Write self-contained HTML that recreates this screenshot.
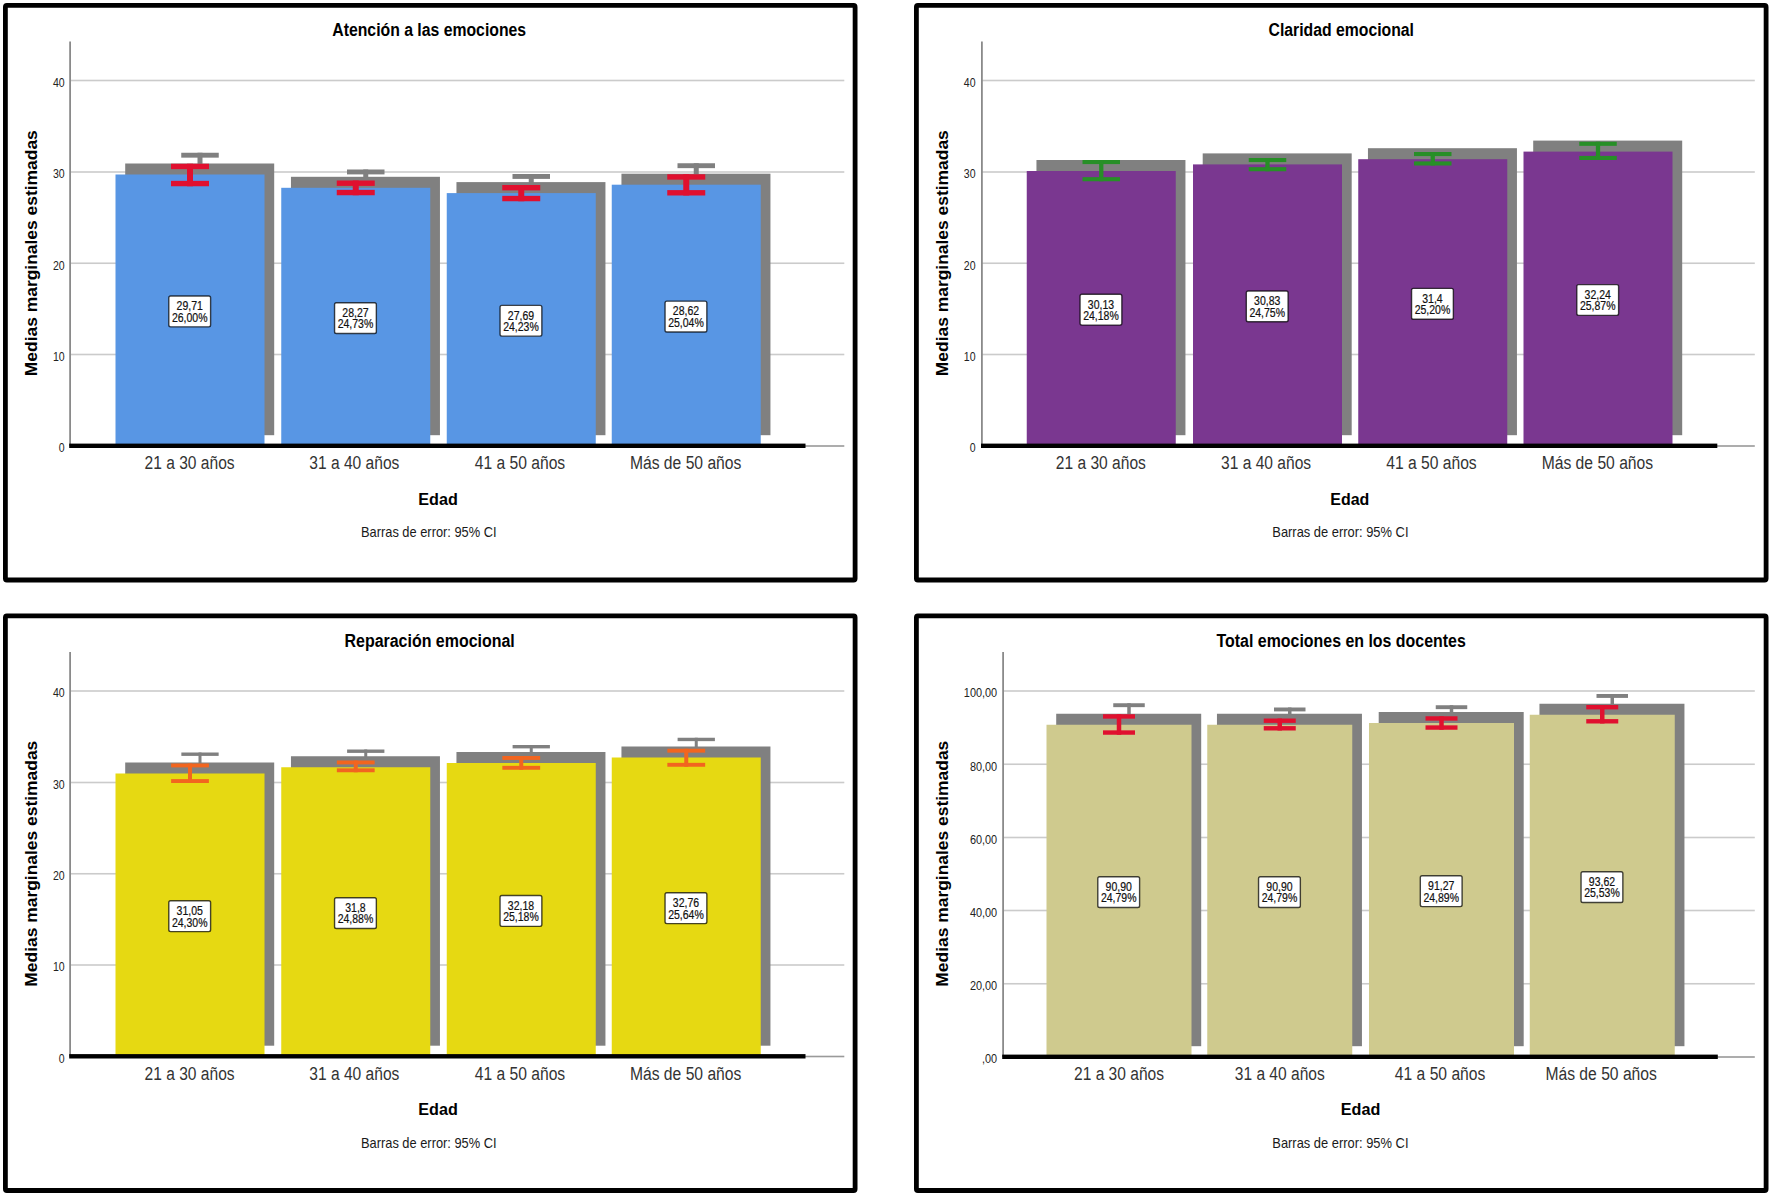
<!DOCTYPE html>
<html lang="es"><head><meta charset="utf-8"><title>Medias marginales estimadas por edad</title>
<style>html,body{margin:0;padding:0;background:#fff}svg{display:block}text{font-family:"Liberation Sans", sans-serif;}</style></head>
<body><svg width="1772" height="1197" viewBox="0 0 1772 1197">
<rect width="1772" height="1197" fill="#fff"/>
<g>
<rect x="5.40" y="5.40" width="849.70" height="574.60" fill="#fff" stroke="#000" stroke-width="4.8" rx="1.5"/>
<rect x="70.10" y="79.70" width="774.20" height="1.60" fill="#cbcbcb"/>
<rect x="70.10" y="171.20" width="774.20" height="1.60" fill="#cbcbcb"/>
<rect x="70.10" y="262.45" width="774.20" height="1.60" fill="#cbcbcb"/>
<rect x="70.10" y="353.70" width="774.20" height="1.60" fill="#cbcbcb"/>
<rect x="70.10" y="445.20" width="774.20" height="1.60" fill="#9a9a9a"/>
<rect x="69.20" y="41.50" width="1.80" height="404.50" fill="#8a8a8a"/>
<text x="64.70" y="86.90" font-size="12" text-anchor="end" fill="#222" textLength="11.74" lengthAdjust="spacingAndGlyphs">40</text>
<text x="64.70" y="178.40" font-size="12" text-anchor="end" fill="#222" textLength="11.74" lengthAdjust="spacingAndGlyphs">30</text>
<text x="64.70" y="269.65" font-size="12" text-anchor="end" fill="#222" textLength="11.74" lengthAdjust="spacingAndGlyphs">20</text>
<text x="64.70" y="360.90" font-size="12" text-anchor="end" fill="#222" textLength="11.74" lengthAdjust="spacingAndGlyphs">10</text>
<text x="64.70" y="452.40" font-size="12" text-anchor="end" fill="#222" textLength="5.87" lengthAdjust="spacingAndGlyphs">0</text>
<rect x="125.20" y="163.50" width="149.00" height="271.70" fill="#808080"/>
<rect x="290.95" y="176.80" width="149.00" height="258.40" fill="#808080"/>
<rect x="456.45" y="182.10" width="149.00" height="253.10" fill="#808080"/>
<rect x="621.45" y="173.70" width="149.00" height="261.50" fill="#808080"/>
<rect x="181.25" y="152.75" width="37.50" height="4.90" fill="#808080"/>
<rect x="197.50" y="152.75" width="5.00" height="22.50" fill="#808080"/>
<rect x="181.25" y="170.35" width="37.50" height="4.90" fill="#808080"/>
<rect x="347.00" y="169.50" width="37.50" height="4.90" fill="#808080"/>
<rect x="363.25" y="169.50" width="5.00" height="14.75" fill="#808080"/>
<rect x="347.00" y="179.35" width="37.50" height="4.90" fill="#808080"/>
<rect x="512.50" y="174.00" width="37.50" height="4.90" fill="#808080"/>
<rect x="528.75" y="174.00" width="5.00" height="16.25" fill="#808080"/>
<rect x="512.50" y="185.35" width="37.50" height="4.90" fill="#808080"/>
<rect x="677.50" y="163.25" width="37.50" height="4.90" fill="#808080"/>
<rect x="693.75" y="163.25" width="5.00" height="21.25" fill="#808080"/>
<rect x="677.50" y="179.60" width="37.50" height="4.90" fill="#808080"/>
<rect x="115.50" y="174.50" width="149.00" height="271.50" fill="#5896e4"/>
<rect x="281.25" y="187.80" width="149.00" height="258.20" fill="#5896e4"/>
<rect x="446.75" y="193.10" width="149.00" height="252.90" fill="#5896e4"/>
<rect x="611.75" y="184.70" width="149.00" height="261.30" fill="#5896e4"/>
<rect x="69.20" y="443.60" width="736.30" height="4.40" fill="#000"/>
<rect x="171.00" y="163.75" width="38.00" height="5.40" fill="#e0102f"/>
<rect x="187.00" y="163.75" width="6.00" height="22.50" fill="#e0102f"/>
<rect x="171.00" y="180.85" width="38.00" height="5.40" fill="#e0102f"/>
<rect x="168.80" y="296.05" width="41.80" height="30.80" rx="1.8" fill="#fff" stroke="#000" stroke-opacity="0.72" stroke-width="1.4"/>
<text x="189.70" y="310.25" font-size="12" text-anchor="middle" fill="#111" textLength="26.26" lengthAdjust="spacingAndGlyphs" stroke="#111" stroke-width="0.2">29,71</text>
<text x="189.70" y="321.75" font-size="12" text-anchor="middle" fill="#111" textLength="35.60" lengthAdjust="spacingAndGlyphs" stroke="#111" stroke-width="0.2">26,00%</text>
<text x="189.60" y="469.10" font-size="18" text-anchor="middle" fill="#333" textLength="90.00" lengthAdjust="spacingAndGlyphs">21 a 30 años</text>
<rect x="336.75" y="180.50" width="38.00" height="5.40" fill="#e0102f"/>
<rect x="352.75" y="180.50" width="6.00" height="14.75" fill="#e0102f"/>
<rect x="336.75" y="189.85" width="38.00" height="5.40" fill="#e0102f"/>
<rect x="334.55" y="302.70" width="41.80" height="30.80" rx="1.8" fill="#fff" stroke="#000" stroke-opacity="0.72" stroke-width="1.4"/>
<text x="355.45" y="316.90" font-size="12" text-anchor="middle" fill="#111" textLength="26.26" lengthAdjust="spacingAndGlyphs" stroke="#111" stroke-width="0.2">28,27</text>
<text x="355.45" y="328.40" font-size="12" text-anchor="middle" fill="#111" textLength="35.60" lengthAdjust="spacingAndGlyphs" stroke="#111" stroke-width="0.2">24,73%</text>
<text x="354.35" y="469.10" font-size="18" text-anchor="middle" fill="#333" textLength="90.00" lengthAdjust="spacingAndGlyphs">31 a 40 años</text>
<rect x="502.25" y="185.00" width="38.00" height="5.40" fill="#e0102f"/>
<rect x="518.25" y="185.00" width="6.00" height="16.25" fill="#e0102f"/>
<rect x="502.25" y="195.85" width="38.00" height="5.40" fill="#e0102f"/>
<rect x="500.05" y="305.35" width="41.80" height="30.80" rx="1.8" fill="#fff" stroke="#000" stroke-opacity="0.72" stroke-width="1.4"/>
<text x="520.95" y="319.55" font-size="12" text-anchor="middle" fill="#111" textLength="26.26" lengthAdjust="spacingAndGlyphs" stroke="#111" stroke-width="0.2">27,69</text>
<text x="520.95" y="331.05" font-size="12" text-anchor="middle" fill="#111" textLength="35.60" lengthAdjust="spacingAndGlyphs" stroke="#111" stroke-width="0.2">24,23%</text>
<text x="519.95" y="469.10" font-size="18" text-anchor="middle" fill="#333" textLength="90.50" lengthAdjust="spacingAndGlyphs">41 a 50 años</text>
<rect x="667.25" y="174.25" width="38.00" height="5.40" fill="#e0102f"/>
<rect x="683.25" y="174.25" width="6.00" height="21.25" fill="#e0102f"/>
<rect x="667.25" y="190.10" width="38.00" height="5.40" fill="#e0102f"/>
<rect x="665.05" y="301.15" width="41.80" height="30.80" rx="1.8" fill="#fff" stroke="#000" stroke-opacity="0.72" stroke-width="1.4"/>
<text x="685.95" y="315.35" font-size="12" text-anchor="middle" fill="#111" textLength="26.26" lengthAdjust="spacingAndGlyphs" stroke="#111" stroke-width="0.2">28,62</text>
<text x="685.95" y="326.85" font-size="12" text-anchor="middle" fill="#111" textLength="35.60" lengthAdjust="spacingAndGlyphs" stroke="#111" stroke-width="0.2">25,04%</text>
<text x="685.65" y="469.10" font-size="18" text-anchor="middle" fill="#333" textLength="111.50" lengthAdjust="spacingAndGlyphs">Más de 50 años</text>
<text x="429.20" y="36.20" font-size="18" text-anchor="middle" font-weight="bold" fill="#000" textLength="193.80" lengthAdjust="spacingAndGlyphs">Atención a las emociones</text>
<text x="438.05" y="504.60" font-size="17" text-anchor="middle" font-weight="bold" fill="#000" textLength="39.50" lengthAdjust="spacingAndGlyphs">Edad</text>
<text x="428.80" y="537.20" font-size="14.6" text-anchor="middle" fill="#1a1a1a" textLength="135.60" lengthAdjust="spacingAndGlyphs">Barras de error: 95% CI</text>
<text transform="translate(36.60,253.20) rotate(-90)" x="0" y="0" font-size="16.8" font-weight="bold" text-anchor="middle" textLength="246" lengthAdjust="spacingAndGlyphs">Medias marginales estimadas</text>
</g>
<g>
<rect x="916.40" y="5.40" width="849.70" height="574.60" fill="#fff" stroke="#000" stroke-width="4.8" rx="1.5"/>
<rect x="981.90" y="79.70" width="772.90" height="1.60" fill="#cbcbcb"/>
<rect x="981.90" y="171.20" width="772.90" height="1.60" fill="#cbcbcb"/>
<rect x="981.90" y="262.45" width="772.90" height="1.60" fill="#cbcbcb"/>
<rect x="981.90" y="353.70" width="772.90" height="1.60" fill="#cbcbcb"/>
<rect x="981.90" y="445.20" width="772.90" height="1.60" fill="#9a9a9a"/>
<rect x="981.00" y="41.50" width="1.80" height="404.50" fill="#8a8a8a"/>
<text x="975.60" y="86.90" font-size="12" text-anchor="end" fill="#222" textLength="11.74" lengthAdjust="spacingAndGlyphs">40</text>
<text x="975.60" y="178.40" font-size="12" text-anchor="end" fill="#222" textLength="11.74" lengthAdjust="spacingAndGlyphs">30</text>
<text x="975.60" y="269.65" font-size="12" text-anchor="end" fill="#222" textLength="11.74" lengthAdjust="spacingAndGlyphs">20</text>
<text x="975.60" y="360.90" font-size="12" text-anchor="end" fill="#222" textLength="11.74" lengthAdjust="spacingAndGlyphs">10</text>
<text x="975.60" y="452.40" font-size="12" text-anchor="end" fill="#222" textLength="5.87" lengthAdjust="spacingAndGlyphs">0</text>
<rect x="1036.45" y="160.00" width="149.00" height="275.20" fill="#808080"/>
<rect x="1202.70" y="153.40" width="149.00" height="281.80" fill="#808080"/>
<rect x="1367.95" y="148.20" width="149.00" height="287.00" fill="#808080"/>
<rect x="1533.20" y="140.60" width="149.00" height="294.60" fill="#808080"/>
<rect x="1026.75" y="171.00" width="149.00" height="275.00" fill="#7a3790"/>
<rect x="1193.00" y="164.40" width="149.00" height="281.60" fill="#7a3790"/>
<rect x="1358.25" y="159.20" width="149.00" height="286.80" fill="#7a3790"/>
<rect x="1523.50" y="151.60" width="149.00" height="294.40" fill="#7a3790"/>
<rect x="981.00" y="443.60" width="736.30" height="4.40" fill="#000"/>
<rect x="1082.50" y="160.00" width="37.50" height="4.10" fill="#278f27"/>
<rect x="1099.10" y="160.00" width="4.30" height="21.25" fill="#278f27"/>
<rect x="1082.50" y="177.15" width="37.50" height="4.10" fill="#278f27"/>
<rect x="1080.05" y="294.30" width="41.80" height="30.80" rx="1.8" fill="#fff" stroke="#000" stroke-opacity="0.72" stroke-width="1.4"/>
<text x="1100.95" y="308.50" font-size="12" text-anchor="middle" fill="#111" textLength="26.26" lengthAdjust="spacingAndGlyphs" stroke="#111" stroke-width="0.2">30,13</text>
<text x="1100.95" y="320.00" font-size="12" text-anchor="middle" fill="#111" textLength="35.60" lengthAdjust="spacingAndGlyphs" stroke="#111" stroke-width="0.2">24,18%</text>
<text x="1100.85" y="469.10" font-size="18" text-anchor="middle" fill="#333" textLength="90.00" lengthAdjust="spacingAndGlyphs">21 a 30 años</text>
<rect x="1248.75" y="158.00" width="37.50" height="4.10" fill="#278f27"/>
<rect x="1265.35" y="158.00" width="4.30" height="13.25" fill="#278f27"/>
<rect x="1248.75" y="167.15" width="37.50" height="4.10" fill="#278f27"/>
<rect x="1246.30" y="291.00" width="41.80" height="30.80" rx="1.8" fill="#fff" stroke="#000" stroke-opacity="0.72" stroke-width="1.4"/>
<text x="1267.20" y="305.20" font-size="12" text-anchor="middle" fill="#111" textLength="26.26" lengthAdjust="spacingAndGlyphs" stroke="#111" stroke-width="0.2">30,83</text>
<text x="1267.20" y="316.70" font-size="12" text-anchor="middle" fill="#111" textLength="35.60" lengthAdjust="spacingAndGlyphs" stroke="#111" stroke-width="0.2">24,75%</text>
<text x="1266.10" y="469.10" font-size="18" text-anchor="middle" fill="#333" textLength="90.00" lengthAdjust="spacingAndGlyphs">31 a 40 años</text>
<rect x="1414.00" y="152.00" width="37.50" height="4.10" fill="#278f27"/>
<rect x="1430.60" y="152.00" width="4.30" height="13.50" fill="#278f27"/>
<rect x="1414.00" y="161.40" width="37.50" height="4.10" fill="#278f27"/>
<rect x="1411.55" y="288.40" width="41.80" height="30.80" rx="1.8" fill="#fff" stroke="#000" stroke-opacity="0.72" stroke-width="1.4"/>
<text x="1432.45" y="302.60" font-size="12" text-anchor="middle" fill="#111" textLength="20.42" lengthAdjust="spacingAndGlyphs" stroke="#111" stroke-width="0.2">31,4</text>
<text x="1432.45" y="314.10" font-size="12" text-anchor="middle" fill="#111" textLength="35.60" lengthAdjust="spacingAndGlyphs" stroke="#111" stroke-width="0.2">25,20%</text>
<text x="1431.45" y="469.10" font-size="18" text-anchor="middle" fill="#333" textLength="90.50" lengthAdjust="spacingAndGlyphs">41 a 50 años</text>
<rect x="1579.25" y="141.75" width="37.50" height="4.10" fill="#278f27"/>
<rect x="1595.85" y="141.75" width="4.30" height="18.25" fill="#278f27"/>
<rect x="1579.25" y="155.90" width="37.50" height="4.10" fill="#278f27"/>
<rect x="1576.80" y="284.60" width="41.80" height="30.80" rx="1.8" fill="#fff" stroke="#000" stroke-opacity="0.72" stroke-width="1.4"/>
<text x="1597.70" y="298.80" font-size="12" text-anchor="middle" fill="#111" textLength="26.26" lengthAdjust="spacingAndGlyphs" stroke="#111" stroke-width="0.2">32,24</text>
<text x="1597.70" y="310.30" font-size="12" text-anchor="middle" fill="#111" textLength="35.60" lengthAdjust="spacingAndGlyphs" stroke="#111" stroke-width="0.2">25,87%</text>
<text x="1597.40" y="469.10" font-size="18" text-anchor="middle" fill="#333" textLength="111.50" lengthAdjust="spacingAndGlyphs">Más de 50 años</text>
<text x="1341.25" y="36.20" font-size="18" text-anchor="middle" font-weight="bold" fill="#000" textLength="145.50" lengthAdjust="spacingAndGlyphs">Claridad emocional</text>
<text x="1349.80" y="504.60" font-size="17" text-anchor="middle" font-weight="bold" fill="#000" textLength="39.00" lengthAdjust="spacingAndGlyphs">Edad</text>
<text x="1340.40" y="537.20" font-size="14.6" text-anchor="middle" fill="#1a1a1a" textLength="136.20" lengthAdjust="spacingAndGlyphs">Barras de error: 95% CI</text>
<text transform="translate(947.80,253.20) rotate(-90)" x="0" y="0" font-size="16.8" font-weight="bold" text-anchor="middle" textLength="246" lengthAdjust="spacingAndGlyphs">Medias marginales estimadas</text>
</g>
<g>
<rect x="5.40" y="615.90" width="849.70" height="574.60" fill="#fff" stroke="#000" stroke-width="4.8" rx="1.5"/>
<rect x="70.10" y="690.20" width="774.20" height="1.60" fill="#cbcbcb"/>
<rect x="70.10" y="781.70" width="774.20" height="1.60" fill="#cbcbcb"/>
<rect x="70.10" y="872.95" width="774.20" height="1.60" fill="#cbcbcb"/>
<rect x="70.10" y="964.20" width="774.20" height="1.60" fill="#cbcbcb"/>
<rect x="70.10" y="1055.70" width="774.20" height="1.60" fill="#9a9a9a"/>
<rect x="69.20" y="652.00" width="1.80" height="404.50" fill="#8a8a8a"/>
<text x="64.70" y="697.40" font-size="12" text-anchor="end" fill="#222" textLength="11.74" lengthAdjust="spacingAndGlyphs">40</text>
<text x="64.70" y="788.90" font-size="12" text-anchor="end" fill="#222" textLength="11.74" lengthAdjust="spacingAndGlyphs">30</text>
<text x="64.70" y="880.15" font-size="12" text-anchor="end" fill="#222" textLength="11.74" lengthAdjust="spacingAndGlyphs">20</text>
<text x="64.70" y="971.40" font-size="12" text-anchor="end" fill="#222" textLength="11.74" lengthAdjust="spacingAndGlyphs">10</text>
<text x="64.70" y="1062.90" font-size="12" text-anchor="end" fill="#222" textLength="5.87" lengthAdjust="spacingAndGlyphs">0</text>
<rect x="125.20" y="762.50" width="149.00" height="283.20" fill="#808080"/>
<rect x="290.95" y="756.25" width="149.00" height="289.45" fill="#808080"/>
<rect x="456.45" y="752.00" width="149.00" height="293.70" fill="#808080"/>
<rect x="621.45" y="746.50" width="149.00" height="299.20" fill="#808080"/>
<rect x="181.35" y="752.50" width="37.30" height="3.40" fill="#808080"/>
<rect x="198.50" y="752.50" width="3.00" height="19.50" fill="#808080"/>
<rect x="181.35" y="768.60" width="37.30" height="3.40" fill="#808080"/>
<rect x="347.10" y="749.50" width="37.30" height="3.40" fill="#808080"/>
<rect x="364.25" y="749.50" width="3.00" height="11.75" fill="#808080"/>
<rect x="347.10" y="757.85" width="37.30" height="3.40" fill="#808080"/>
<rect x="512.60" y="745.00" width="37.30" height="3.40" fill="#808080"/>
<rect x="529.75" y="745.00" width="3.00" height="13.75" fill="#808080"/>
<rect x="512.60" y="755.35" width="37.30" height="3.40" fill="#808080"/>
<rect x="677.60" y="737.75" width="37.30" height="3.40" fill="#808080"/>
<rect x="694.75" y="737.75" width="3.00" height="18.00" fill="#808080"/>
<rect x="677.60" y="752.35" width="37.30" height="3.40" fill="#808080"/>
<rect x="115.50" y="773.50" width="149.00" height="283.00" fill="#e6d912"/>
<rect x="281.25" y="767.25" width="149.00" height="289.25" fill="#e6d912"/>
<rect x="446.75" y="763.00" width="149.00" height="293.50" fill="#e6d912"/>
<rect x="611.75" y="757.50" width="149.00" height="299.00" fill="#e6d912"/>
<rect x="69.20" y="1054.10" width="736.30" height="4.40" fill="#000"/>
<rect x="171.10" y="763.50" width="37.80" height="3.90" fill="#f2651f"/>
<rect x="188.00" y="763.50" width="4.00" height="19.50" fill="#f2651f"/>
<rect x="171.10" y="779.10" width="37.80" height="3.90" fill="#f2651f"/>
<rect x="168.80" y="900.80" width="41.80" height="30.80" rx="1.8" fill="#fff" stroke="#000" stroke-opacity="0.72" stroke-width="1.4"/>
<text x="189.70" y="915.00" font-size="12" text-anchor="middle" fill="#111" textLength="26.26" lengthAdjust="spacingAndGlyphs" stroke="#111" stroke-width="0.2">31,05</text>
<text x="189.70" y="926.50" font-size="12" text-anchor="middle" fill="#111" textLength="35.60" lengthAdjust="spacingAndGlyphs" stroke="#111" stroke-width="0.2">24,30%</text>
<text x="189.60" y="1079.60" font-size="18" text-anchor="middle" fill="#333" textLength="90.00" lengthAdjust="spacingAndGlyphs">21 a 30 años</text>
<rect x="336.85" y="760.50" width="37.80" height="3.90" fill="#f2651f"/>
<rect x="353.75" y="760.50" width="4.00" height="11.75" fill="#f2651f"/>
<rect x="336.85" y="768.35" width="37.80" height="3.90" fill="#f2651f"/>
<rect x="334.55" y="897.68" width="41.80" height="30.80" rx="1.8" fill="#fff" stroke="#000" stroke-opacity="0.72" stroke-width="1.4"/>
<text x="355.45" y="911.88" font-size="12" text-anchor="middle" fill="#111" textLength="20.42" lengthAdjust="spacingAndGlyphs" stroke="#111" stroke-width="0.2">31,8</text>
<text x="355.45" y="923.38" font-size="12" text-anchor="middle" fill="#111" textLength="35.60" lengthAdjust="spacingAndGlyphs" stroke="#111" stroke-width="0.2">24,88%</text>
<text x="354.35" y="1079.60" font-size="18" text-anchor="middle" fill="#333" textLength="90.00" lengthAdjust="spacingAndGlyphs">31 a 40 años</text>
<rect x="502.35" y="756.00" width="37.80" height="3.90" fill="#f2651f"/>
<rect x="519.25" y="756.00" width="4.00" height="13.75" fill="#f2651f"/>
<rect x="502.35" y="765.85" width="37.80" height="3.90" fill="#f2651f"/>
<rect x="500.05" y="895.55" width="41.80" height="30.80" rx="1.8" fill="#fff" stroke="#000" stroke-opacity="0.72" stroke-width="1.4"/>
<text x="520.95" y="909.75" font-size="12" text-anchor="middle" fill="#111" textLength="26.26" lengthAdjust="spacingAndGlyphs" stroke="#111" stroke-width="0.2">32,18</text>
<text x="520.95" y="921.25" font-size="12" text-anchor="middle" fill="#111" textLength="35.60" lengthAdjust="spacingAndGlyphs" stroke="#111" stroke-width="0.2">25,18%</text>
<text x="519.95" y="1079.60" font-size="18" text-anchor="middle" fill="#333" textLength="90.50" lengthAdjust="spacingAndGlyphs">41 a 50 años</text>
<rect x="667.35" y="748.75" width="37.80" height="3.90" fill="#f2651f"/>
<rect x="684.25" y="748.75" width="4.00" height="18.00" fill="#f2651f"/>
<rect x="667.35" y="762.85" width="37.80" height="3.90" fill="#f2651f"/>
<rect x="665.05" y="892.80" width="41.80" height="30.80" rx="1.8" fill="#fff" stroke="#000" stroke-opacity="0.72" stroke-width="1.4"/>
<text x="685.95" y="907.00" font-size="12" text-anchor="middle" fill="#111" textLength="26.26" lengthAdjust="spacingAndGlyphs" stroke="#111" stroke-width="0.2">32,76</text>
<text x="685.95" y="918.50" font-size="12" text-anchor="middle" fill="#111" textLength="35.60" lengthAdjust="spacingAndGlyphs" stroke="#111" stroke-width="0.2">25,64%</text>
<text x="685.65" y="1079.60" font-size="18" text-anchor="middle" fill="#333" textLength="111.50" lengthAdjust="spacingAndGlyphs">Más de 50 años</text>
<text x="429.65" y="646.70" font-size="18" text-anchor="middle" font-weight="bold" fill="#000" textLength="170.30" lengthAdjust="spacingAndGlyphs">Reparación emocional</text>
<text x="438.05" y="1115.10" font-size="17" text-anchor="middle" font-weight="bold" fill="#000" textLength="39.50" lengthAdjust="spacingAndGlyphs">Edad</text>
<text x="428.80" y="1147.70" font-size="14.6" text-anchor="middle" fill="#1a1a1a" textLength="135.60" lengthAdjust="spacingAndGlyphs">Barras de error: 95% CI</text>
<text transform="translate(36.60,863.70) rotate(-90)" x="0" y="0" font-size="16.8" font-weight="bold" text-anchor="middle" textLength="246" lengthAdjust="spacingAndGlyphs">Medias marginales estimadas</text>
</g>
<g>
<rect x="916.40" y="615.90" width="849.70" height="574.60" fill="#fff" stroke="#000" stroke-width="4.8" rx="1.5"/>
<rect x="1003.10" y="690.20" width="751.70" height="1.60" fill="#cbcbcb"/>
<rect x="1003.10" y="763.45" width="751.70" height="1.60" fill="#cbcbcb"/>
<rect x="1003.10" y="836.70" width="751.70" height="1.60" fill="#cbcbcb"/>
<rect x="1003.10" y="909.70" width="751.70" height="1.60" fill="#cbcbcb"/>
<rect x="1003.10" y="982.95" width="751.70" height="1.60" fill="#cbcbcb"/>
<rect x="1003.10" y="1056.20" width="751.70" height="1.60" fill="#9a9a9a"/>
<rect x="1002.20" y="652.00" width="1.80" height="405.00" fill="#8a8a8a"/>
<text x="997.20" y="697.40" font-size="12" text-anchor="end" fill="#222" textLength="33.38" lengthAdjust="spacingAndGlyphs">100,00</text>
<text x="997.20" y="770.65" font-size="12" text-anchor="end" fill="#222" textLength="27.31" lengthAdjust="spacingAndGlyphs">80,00</text>
<text x="997.20" y="843.90" font-size="12" text-anchor="end" fill="#222" textLength="27.31" lengthAdjust="spacingAndGlyphs">60,00</text>
<text x="997.20" y="916.90" font-size="12" text-anchor="end" fill="#222" textLength="27.31" lengthAdjust="spacingAndGlyphs">40,00</text>
<text x="997.20" y="990.15" font-size="12" text-anchor="end" fill="#222" textLength="27.31" lengthAdjust="spacingAndGlyphs">20,00</text>
<text x="997.20" y="1063.40" font-size="12" text-anchor="end" fill="#222" textLength="15.17" lengthAdjust="spacingAndGlyphs">,00</text>
<rect x="1056.20" y="713.75" width="145.00" height="332.45" fill="#808080"/>
<rect x="1216.95" y="713.75" width="145.00" height="332.45" fill="#808080"/>
<rect x="1378.70" y="712.00" width="145.00" height="334.20" fill="#808080"/>
<rect x="1539.45" y="703.75" width="145.00" height="342.45" fill="#808080"/>
<rect x="1113.25" y="703.25" width="31.50" height="3.90" fill="#808080"/>
<rect x="1127.25" y="703.25" width="3.50" height="20.50" fill="#808080"/>
<rect x="1113.25" y="719.85" width="31.50" height="3.90" fill="#808080"/>
<rect x="1274.00" y="707.50" width="31.50" height="3.90" fill="#808080"/>
<rect x="1288.00" y="707.50" width="3.50" height="12.00" fill="#808080"/>
<rect x="1274.00" y="715.60" width="31.50" height="3.90" fill="#808080"/>
<rect x="1435.75" y="705.25" width="31.50" height="3.90" fill="#808080"/>
<rect x="1449.75" y="705.25" width="3.50" height="13.50" fill="#808080"/>
<rect x="1435.75" y="714.85" width="31.50" height="3.90" fill="#808080"/>
<rect x="1596.50" y="694.00" width="31.50" height="3.90" fill="#808080"/>
<rect x="1610.50" y="694.00" width="3.50" height="18.50" fill="#808080"/>
<rect x="1596.50" y="708.60" width="31.50" height="3.90" fill="#808080"/>
<rect x="1046.50" y="724.75" width="145.00" height="332.25" fill="#cfca8e"/>
<rect x="1207.25" y="724.75" width="145.00" height="332.25" fill="#cfca8e"/>
<rect x="1369.00" y="723.00" width="145.00" height="334.00" fill="#cfca8e"/>
<rect x="1529.75" y="714.75" width="145.00" height="342.25" fill="#cfca8e"/>
<rect x="1002.20" y="1054.60" width="715.60" height="4.40" fill="#000"/>
<rect x="1103.00" y="714.25" width="32.00" height="4.40" fill="#e0102f"/>
<rect x="1116.75" y="714.25" width="4.50" height="20.50" fill="#e0102f"/>
<rect x="1103.00" y="730.35" width="32.00" height="4.40" fill="#e0102f"/>
<rect x="1097.80" y="876.68" width="41.80" height="30.80" rx="1.8" fill="#fff" stroke="#000" stroke-opacity="0.72" stroke-width="1.4"/>
<text x="1118.70" y="890.88" font-size="12" text-anchor="middle" fill="#111" textLength="26.26" lengthAdjust="spacingAndGlyphs" stroke="#111" stroke-width="0.2">90,90</text>
<text x="1118.70" y="902.38" font-size="12" text-anchor="middle" fill="#111" textLength="35.60" lengthAdjust="spacingAndGlyphs" stroke="#111" stroke-width="0.2">24,79%</text>
<text x="1119.00" y="1080.10" font-size="18" text-anchor="middle" fill="#333" textLength="90.00" lengthAdjust="spacingAndGlyphs">21 a 30 años</text>
<rect x="1263.75" y="718.50" width="32.00" height="4.40" fill="#e0102f"/>
<rect x="1277.50" y="718.50" width="4.50" height="12.00" fill="#e0102f"/>
<rect x="1263.75" y="726.10" width="32.00" height="4.40" fill="#e0102f"/>
<rect x="1258.55" y="876.68" width="41.80" height="30.80" rx="1.8" fill="#fff" stroke="#000" stroke-opacity="0.72" stroke-width="1.4"/>
<text x="1279.45" y="890.88" font-size="12" text-anchor="middle" fill="#111" textLength="26.26" lengthAdjust="spacingAndGlyphs" stroke="#111" stroke-width="0.2">90,90</text>
<text x="1279.45" y="902.38" font-size="12" text-anchor="middle" fill="#111" textLength="35.60" lengthAdjust="spacingAndGlyphs" stroke="#111" stroke-width="0.2">24,79%</text>
<text x="1279.75" y="1080.10" font-size="18" text-anchor="middle" fill="#333" textLength="90.00" lengthAdjust="spacingAndGlyphs">31 a 40 años</text>
<rect x="1425.50" y="716.25" width="32.00" height="4.40" fill="#e0102f"/>
<rect x="1439.25" y="716.25" width="4.50" height="13.50" fill="#e0102f"/>
<rect x="1425.50" y="725.35" width="32.00" height="4.40" fill="#e0102f"/>
<rect x="1420.30" y="875.80" width="41.80" height="30.80" rx="1.8" fill="#fff" stroke="#000" stroke-opacity="0.72" stroke-width="1.4"/>
<text x="1441.20" y="890.00" font-size="12" text-anchor="middle" fill="#111" textLength="26.26" lengthAdjust="spacingAndGlyphs" stroke="#111" stroke-width="0.2">91,27</text>
<text x="1441.20" y="901.50" font-size="12" text-anchor="middle" fill="#111" textLength="35.60" lengthAdjust="spacingAndGlyphs" stroke="#111" stroke-width="0.2">24,89%</text>
<text x="1440.10" y="1080.10" font-size="18" text-anchor="middle" fill="#333" textLength="90.50" lengthAdjust="spacingAndGlyphs">41 a 50 años</text>
<rect x="1586.25" y="705.00" width="32.00" height="4.40" fill="#e0102f"/>
<rect x="1600.00" y="705.00" width="4.50" height="18.50" fill="#e0102f"/>
<rect x="1586.25" y="719.10" width="32.00" height="4.40" fill="#e0102f"/>
<rect x="1581.05" y="871.68" width="41.80" height="30.80" rx="1.8" fill="#fff" stroke="#000" stroke-opacity="0.72" stroke-width="1.4"/>
<text x="1601.95" y="885.88" font-size="12" text-anchor="middle" fill="#111" textLength="26.26" lengthAdjust="spacingAndGlyphs" stroke="#111" stroke-width="0.2">93,62</text>
<text x="1601.95" y="897.38" font-size="12" text-anchor="middle" fill="#111" textLength="35.60" lengthAdjust="spacingAndGlyphs" stroke="#111" stroke-width="0.2">25,53%</text>
<text x="1601.15" y="1080.10" font-size="18" text-anchor="middle" fill="#333" textLength="111.50" lengthAdjust="spacingAndGlyphs">Más de 50 años</text>
<text x="1341.15" y="646.70" font-size="18" text-anchor="middle" font-weight="bold" fill="#000" textLength="249.30" lengthAdjust="spacingAndGlyphs">Total emociones en los docentes</text>
<text x="1360.55" y="1115.10" font-size="17" text-anchor="middle" font-weight="bold" fill="#000" textLength="39.50" lengthAdjust="spacingAndGlyphs">Edad</text>
<text x="1340.40" y="1147.70" font-size="14.6" text-anchor="middle" fill="#1a1a1a" textLength="136.20" lengthAdjust="spacingAndGlyphs">Barras de error: 95% CI</text>
<text transform="translate(947.80,863.70) rotate(-90)" x="0" y="0" font-size="16.8" font-weight="bold" text-anchor="middle" textLength="246" lengthAdjust="spacingAndGlyphs">Medias marginales estimadas</text>
</g>
</svg></body></html>
